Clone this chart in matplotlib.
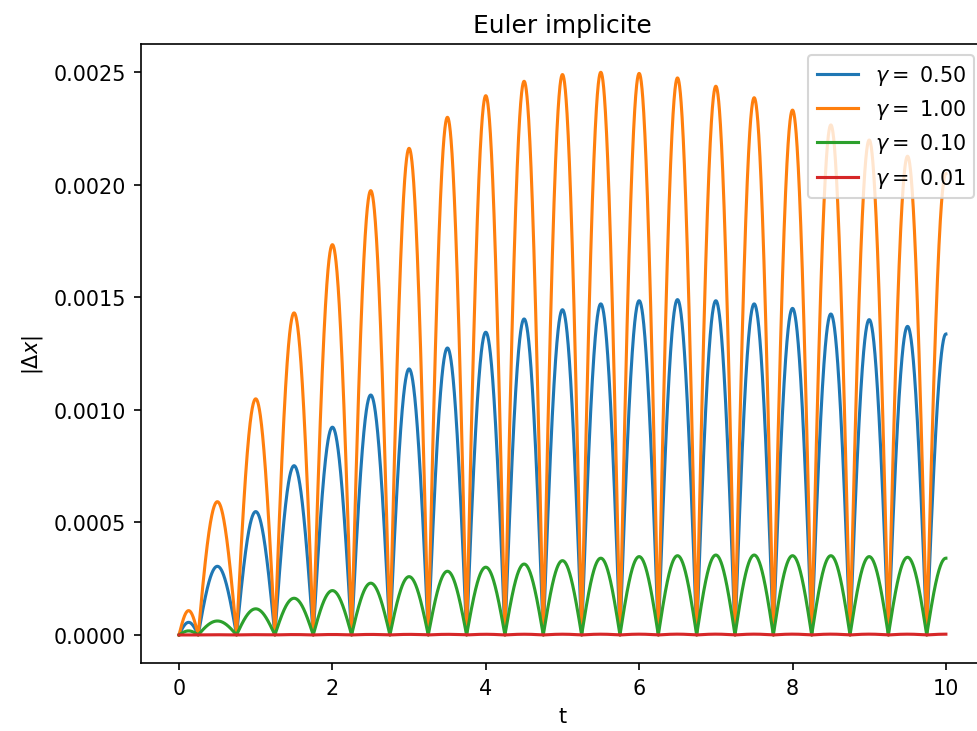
import numpy as np
import matplotlib
matplotlib.use("Agg")
import matplotlib.pyplot as plt

# arch zeros (t where |dx| = 0) and peak amplitudes of each arch
zeros = [0.0, 0.25, 0.75, 1.25, 1.75, 2.25, 2.75, 3.25, 3.75, 4.25, 4.75, 5.25,
         5.75, 6.25, 6.75, 7.25, 7.75, 8.25, 8.75, 9.25, 9.75, 10.25]
gammas = [0.50, 1.00, 0.10, 0.01]
peaks_g050 = [0.000056, 0.000305, 0.000548, 0.000752, 0.000923, 0.001066, 0.001182,
              0.001275, 0.001345, 0.001404, 0.001445, 0.001471, 0.001485, 0.001490,
              0.001485, 0.001471, 0.001451, 0.001426, 0.001401, 0.001371, 0.001337]
peaks_g100 = [0.000108, 0.000592, 0.001049, 0.001431, 0.001734, 0.001974, 0.002162,
              0.002300, 0.002396, 0.002460, 0.002490, 0.002500, 0.002495, 0.002475,
              0.002438, 0.002387, 0.002332, 0.002266, 0.002199, 0.002127, 0.002050]
peaks_g010 = [0.000018, 0.000062, 0.000116, 0.000163, 0.000197, 0.000230, 0.000259,
              0.000283, 0.000301, 0.000315, 0.000330, 0.000341, 0.000348, 0.000352,
              0.000355, 0.000355, 0.000352, 0.000352, 0.000348, 0.000345, 0.000341]
peaks_g001 = [0.0000002, 0.0000008, 0.0000012, 0.0000016, 0.0000019, 0.0000022, 0.0000025,
              0.0000027, 0.0000029, 0.0000031, 0.0000032, 0.0000033, 0.0000034, 0.0000035,
              0.0000035, 0.0000035, 0.0000035, 0.0000035, 0.0000035, 0.0000034, 0.0000034]
series = [peaks_g050, peaks_g100, peaks_g010, peaks_g001]

t = np.linspace(0, 10, 4001)
z = np.array(zeros)
idx = np.clip(np.searchsorted(z, t, side="right") - 1, 0, len(z) - 2)
phase = (t - z[idx]) / (z[idx + 1] - z[idx])

DPI = 149
fig = plt.figure(figsize=(977 / DPI, 732 / DPI), dpi=DPI)
ax = fig.add_axes([0.144, 0.0928, 0.8634, 0.8455])
for g, pk in zip(gammas, series):
    y = np.array(pk)[idx] * np.abs(np.sin(np.pi * phase))
    ax.plot(t, y, label=r"$\gamma=$ " + f"{g:.2f}")

ax.set_xlim(-0.5, 10.5)
ax.set_ylim(-0.000125, 0.002625)
ax.set_title("Euler implicite")
ax.set_xlabel("t")
ax.set_ylabel(r"$|\Delta x|$")
ax.legend(loc="upper right")
fig.savefig("out.png", dpi=DPI)
